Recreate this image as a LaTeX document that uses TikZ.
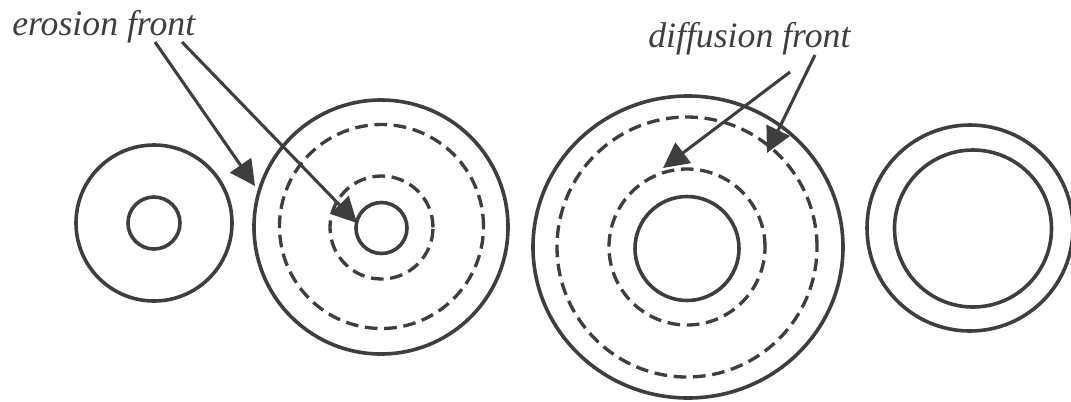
\documentclass[tikz,border=0pt]{standalone}
\usepackage{fontspec}
\setmainfont{Liberation Serif}
\usetikzlibrary{arrows.meta,shapes.geometric}
\definecolor{ink}{RGB}{62,62,62}
\tikzset{
  ring/.style={circle,draw=ink,line width=2.7pt,inner sep=0pt,outer sep=0pt,minimum size=#1},
  dring/.style={circle,draw=ink,line width=2.5pt,dash pattern=on 9.5pt off 5pt,inner sep=0pt,outer sep=0pt,minimum size=#1},
  lbl/.style={font=\fontsize{26.8}{30}\selectfont\itshape,text=ink,inner sep=0pt,anchor=base west},
  pointer/.style={draw=ink,line width=2.3pt,-{Triangle[length=19pt,width=19pt]}}
}
\begin{document}
\begin{tikzpicture}[x=0.75pt,y=-0.75pt]
\useasboundingbox (0,0) rectangle (1071,401);
% circle 1
\node[ring=117pt] (c1out) at (154,223) {};
\node[ring=39pt] (c1in) at (154,223) {};
% circle 2
\node[ring=190.5pt] (c2out) at (381,227) {};
\node[dring=153pt] (c2da) at (381.5,226.5) {};
\node[dring=77.25pt] (c2db) at (381.5,227.5) {};
\node[ring=38.25pt] (c2in) at (381.5,228) {};
% circle 3
\node[ellipse,draw=ink,line width=2.7pt,inner sep=0pt,outer sep=0pt,minimum width=232.5pt,minimum height=226.5pt] (c3out) at (688,247) {};
\node[dring=195pt] (c3da) at (687,247) {};
\node[dring=117pt] (c3db) at (687,247) {};
\node[ring=78pt] (c3in) at (687,248.5) {};
% circle 4
\node[ring=154.5pt] (c4out) at (970,228) {};
\node[ring=117.75pt] (c4in) at (973,228.5) {};
% labels
\node[lbl] (ero) at (12,35) {erosion front};
\node[lbl] (dif) at (648,47) {diffusion front};
% pointer ends
\coordinate (e1s) at (155,42);
\coordinate (e1t) at (255,186);
\coordinate (e2s) at (182,42);
\coordinate (e2t) at (357,223);
\coordinate (d1s) at (790,72);
\coordinate (d1t) at (663,168);
\coordinate (d2s) at (815,55);
\coordinate (d2t) at (767,153);
\draw[pointer] (e1s) -- (e1t);
\draw[pointer] (e2s) -- (e2t);
\draw[pointer] (d1s) -- (d1t);
\draw[pointer] (d2s) -- (d2t);
\end{tikzpicture}
\end{document}
